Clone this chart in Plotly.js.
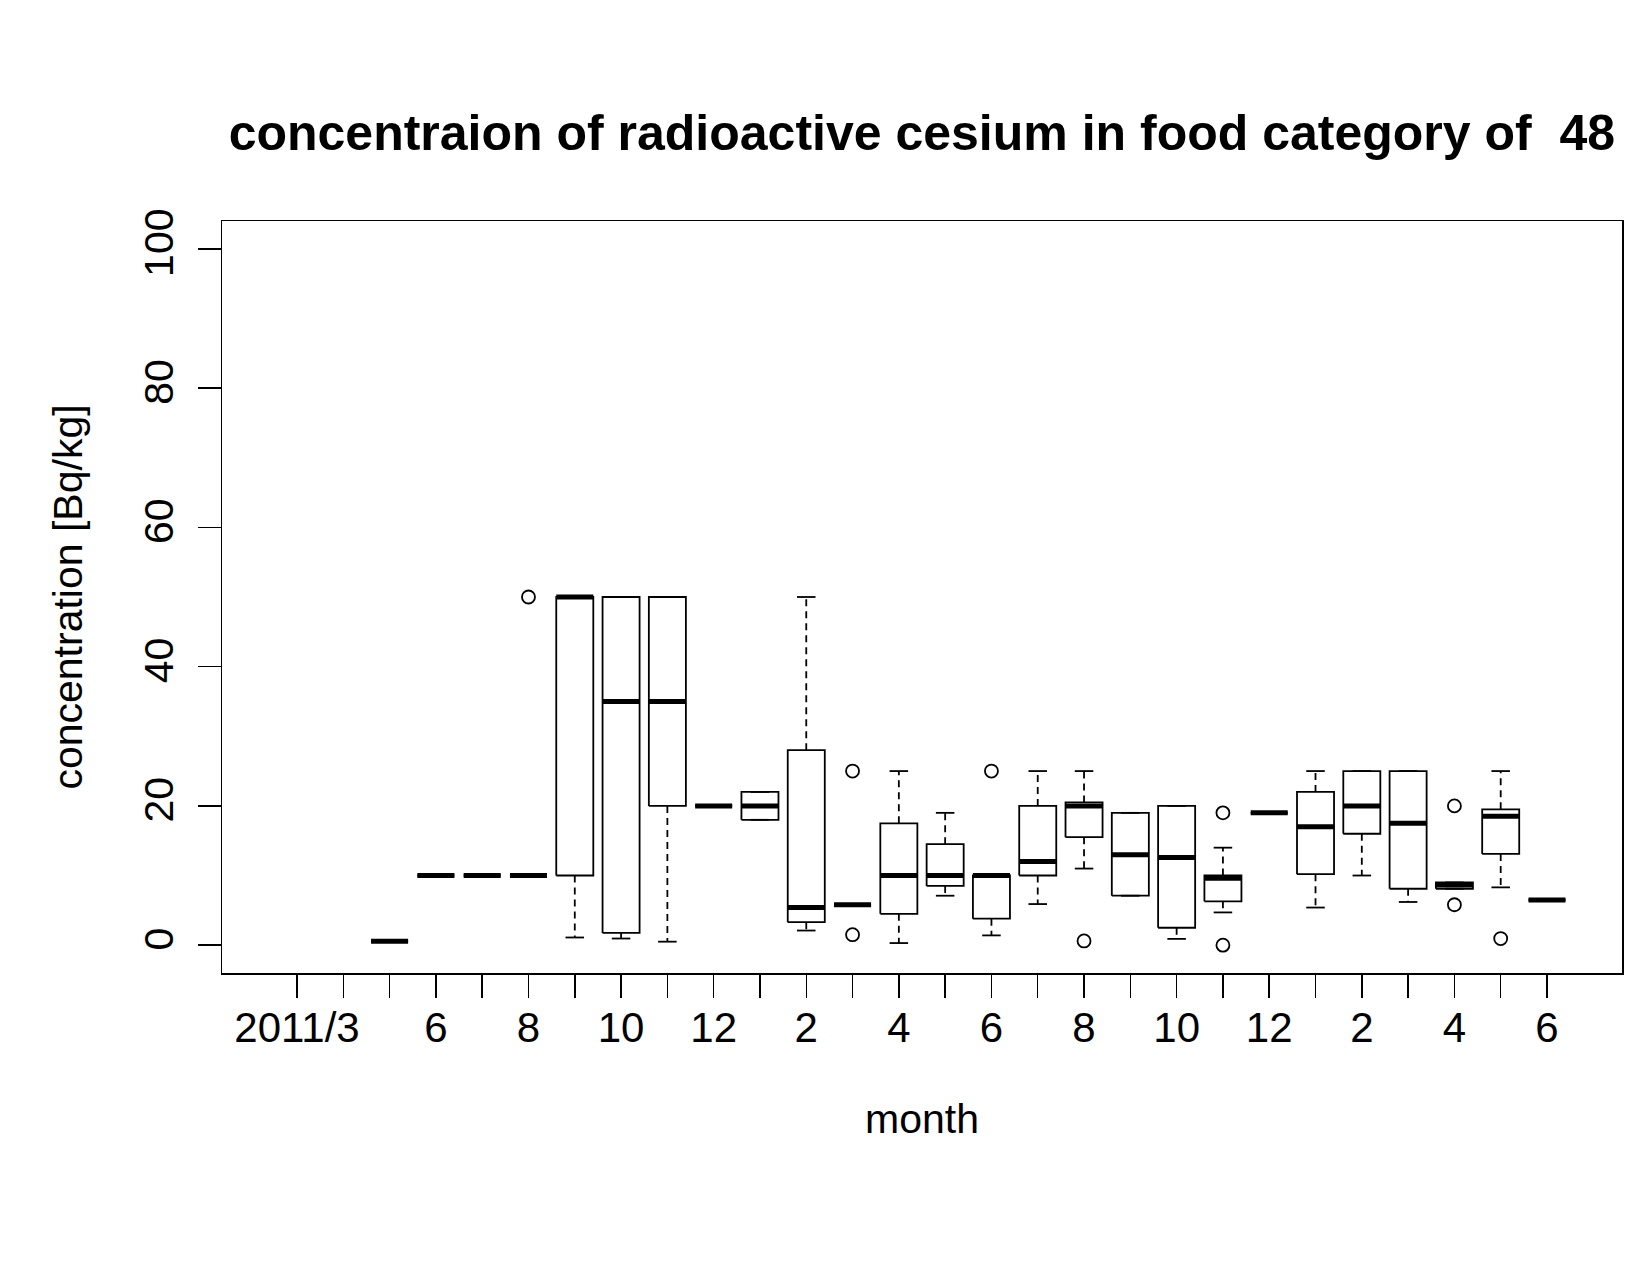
<!DOCTYPE html>
<html>
<head>
<meta charset="utf-8">
<script src="https://cdn.plot.ly/plotly-3.0.1.min.js"></script>
<style>
html,body{margin:0;padding:0;background:#fff;}
#chart{width:1650px;height:1275px;}
</style>
</head>
<body>
<div id="chart"></div>
<script>
// Month labels (2011/3 .. 2013/6)
const monthLabels = ["2011/3","4","5","6","7","8","9","10","11","12","1","2","3","4","5","6","7","8","9","10","11","12","1","2","3","4","5","6"];
// Labels that R actually printed (others dropped for overlap)
const shownLabels = ["2011/3","","","6","","8","","10","","12","","2","","4","","6","","8","","10","","12","","2","","4","","6"];

// Box statistics per month (null = no data)
const lowerWhisker = [null,null,0.55,10,10,10,1.1,0.95,0.5,20,18,2.1,5.8,0.3,7.1,1.4,5.9,11,7.1,0.9,4.7,19,5.4,10,6.2,8.1,8.3,6.5];
const q1           = [null,null,0.55,10,10,10,10,1.75,20,20,18,3.3,5.8,4.5,8.5,3.8,10,15.5,7.1,2.5,6.3,19,10.2,16,8.1,8.1,13.1,6.5];
const medians      = [null,null,0.55,10,10,10,50,35,35,20,20,5.4,5.8,10,10,10,12,20,13,12.6,9.6,19,17,20,17.5,8.65,18.5,6.5];
const q3           = [null,null,0.55,10,10,10,50,50,50,20,22,28,5.8,17.5,14.5,10,20,20.5,19,20,10,19,22,25,25,9,19.5,6.5];
const upperWhisker = [null,null,0.55,10,10,10,50,50,50,20,22,50,5.8,25,19,10,25,25,19,20,14,19,25,25,25,9,25,6.5];

// Outliers: month index and value
const outlierMonth = [5,12,12,15,17,20,20,25,25,26];
const outlierValue = [50,25,1.5,25,0.6,19,0.0,20,5.8,0.95];

const HALF_BOX = 0.4, HALF_CAP = 0.2;
const boxX=[],boxY=[],whX=[],whY=[],capX=[],capY=[],medX=[],medY=[];
for (let i=0;i<monthLabels.length;i++){
  if (medians[i]===null) continue;
  boxX.push(i-HALF_BOX,i+HALF_BOX,i+HALF_BOX,i-HALF_BOX,i-HALF_BOX,null);
  boxY.push(q1[i],q1[i],q3[i],q3[i],q1[i],null);
  whX.push(i,i,null,i,i,null);
  whY.push(q3[i],upperWhisker[i],null,q1[i],lowerWhisker[i],null);
  capX.push(i-HALF_CAP,i+HALF_CAP,null,i-HALF_CAP,i+HALF_CAP,null);
  capY.push(upperWhisker[i],upperWhisker[i],null,lowerWhisker[i],lowerWhisker[i],null);
  medX.push(i-HALF_BOX,i+HALF_BOX,null);
  medY.push(medians[i],medians[i],null);
}

const traces = [
  {type:'scatter',mode:'lines',x:whX,y:whY,line:{color:'#000',width:1.8,dash:'7px,5px'},hoverinfo:'skip'},
  {type:'scatter',mode:'lines',x:capX,y:capY,line:{color:'#000',width:1.8},hoverinfo:'skip'},
  {type:'scatter',mode:'lines',x:boxX,y:boxY,line:{color:'#000',width:1.8},hoverinfo:'skip'},
  {type:'scatter',mode:'lines',x:medX,y:medY,line:{color:'#000',width:5},hoverinfo:'skip'},
  {type:'scatter',mode:'markers',x:outlierMonth,y:outlierValue,
   marker:{symbol:'circle-open',size:13,color:'#000',line:{width:1.8,color:'#000'}},hoverinfo:'skip'}
];

const tickFont = {family:'Liberation Sans, Arial, sans-serif',size:42,color:'#000'};
const layout = {
  width:1650,height:1275,
  paper_bgcolor:'#fff',plot_bgcolor:'#fff',
  showlegend:false,
  margin:{l:222,r:28,t:221,b:302},
  title:{text:'concentraion of radioactive cesium in food category of  48',
    font:{family:'Liberation Sans, Arial, sans-serif',size:50,color:'#000',weight:'bold'},
    x:0.5587,xref:'container',xanchor:'center',y:1-132/1275,yref:'container',yanchor:'middle'},
  xaxis:{
    range:[-1.62,28.62],
    tickmode:'array',tickvals:monthLabels.map((_,i)=>i),ticktext:shownLabels,
    ticks:'outside',ticklen:23,tickwidth:1.5,tickcolor:'#000',
    showgrid:false,zeroline:false,showline:true,linecolor:'#000',linewidth:1.5,mirror:true,
    tickfont:tickFont,ticklabelstandoff:-6,
    title:{text:'month',font:{family:'Liberation Sans, Arial, sans-serif',size:41,color:'#000'},standoff:54},
    automargin:false
  },
  yaxis:{
    range:[-4,104],
    tickmode:'array',tickvals:[0,20,40,60,80,100],ticktext:['0','20','40','60','80','100'],
    ticks:'outside',ticklen:23,tickwidth:1.5,tickcolor:'#000',tickangle:-90,
    showgrid:false,zeroline:false,showline:true,linecolor:'#000',linewidth:1.5,mirror:true,
    tickfont:{family:'Liberation Sans, Arial, sans-serif',size:41,color:'#000'},ticklabelstandoff:8,
    title:{text:'concentration [Bq/kg]',font:{family:'Liberation Sans, Arial, sans-serif',size:41,color:'#000'},standoff:40},
    automargin:false
  }
};
Plotly.newPlot('chart',traces,layout,{staticPlot:true});
</script>
</body>
</html>
